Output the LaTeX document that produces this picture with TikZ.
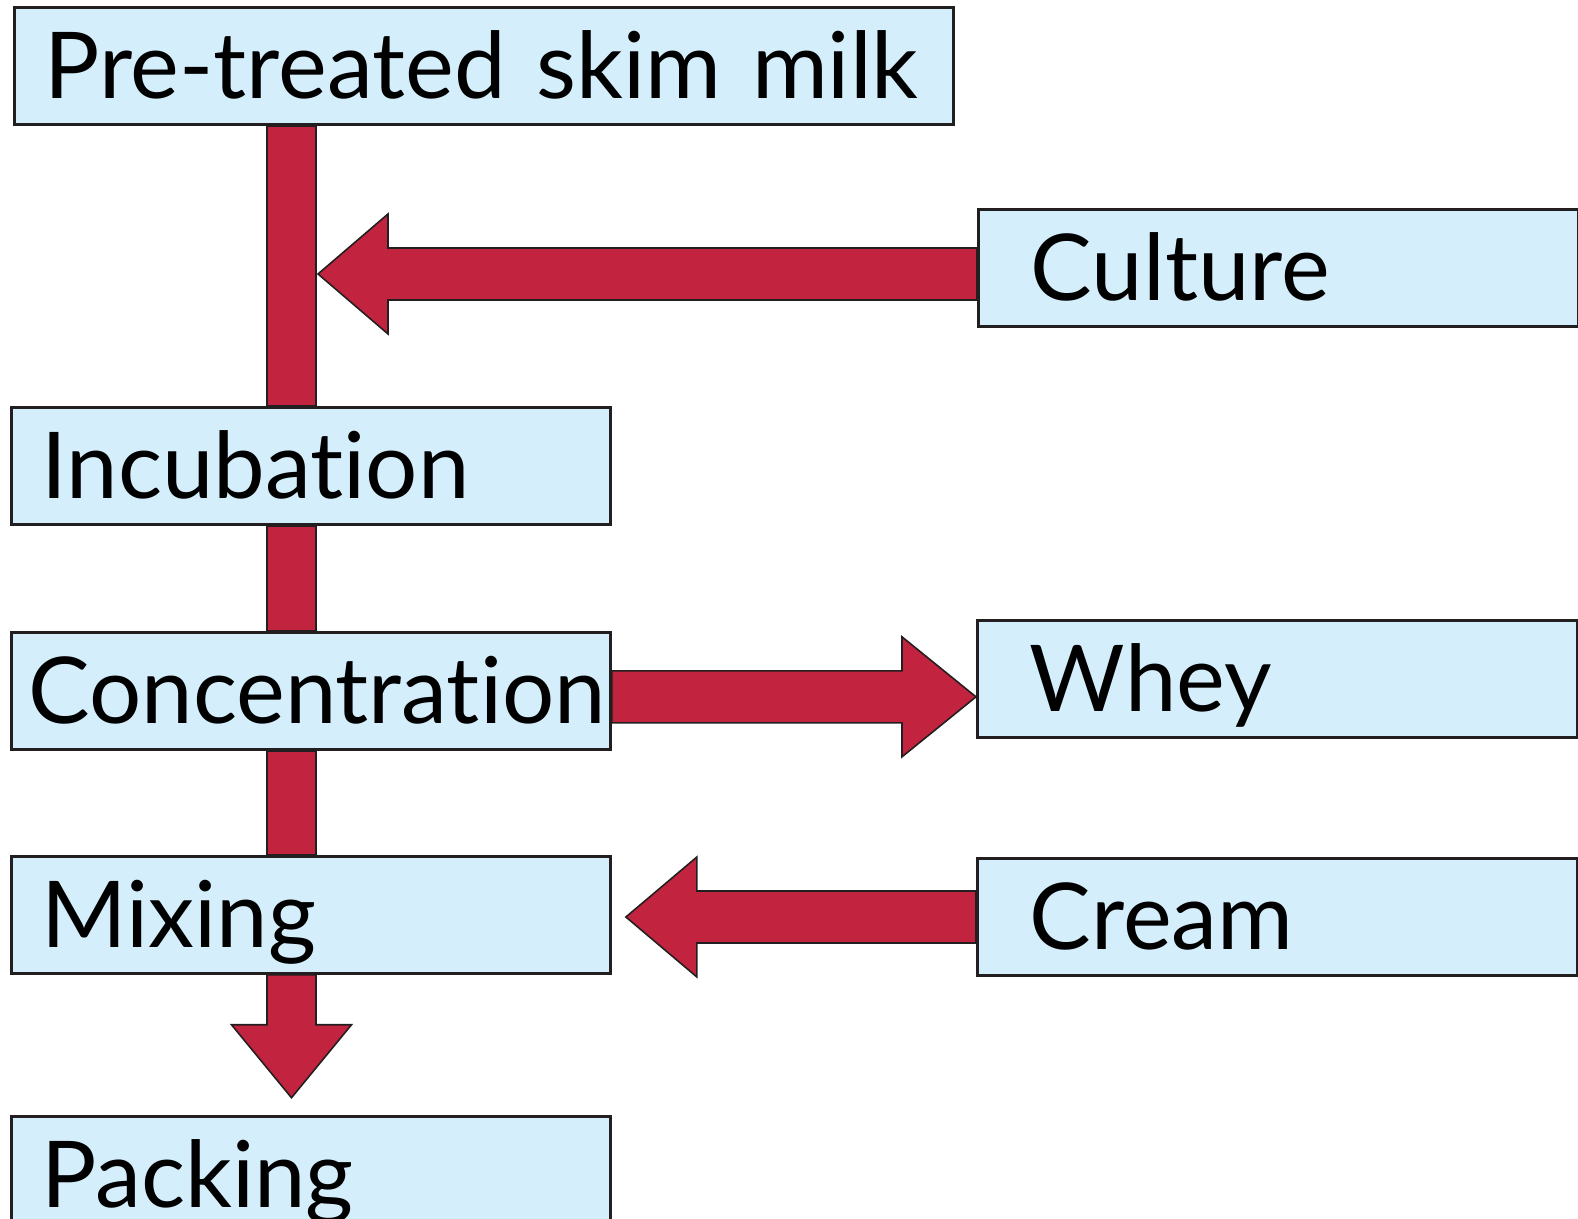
\documentclass[tikz,border=0pt]{standalone}
\usepackage{fontspec}
\setmainfont{Lato}[Ligatures={NoCommon}]
\usetikzlibrary{positioning, calc, backgrounds}
\definecolor{boxfill}{HTML}{D5EEFB}
\definecolor{flow}{HTML}{C2233F}
\definecolor{edge}{HTML}{231F20}

\begin{document}
\begin{tikzpicture}[
  x=0.02cm, y=-0.02cm,
  font=\fontsize{52.5}{62}\selectfont,
  box/.style={rectangle, draw=edge, fill=boxfill, line width=1.7pt, anchor=north west,
              inner xsep=0.6cm, inner ysep=0pt, text width=10.78cm, align=left,
              minimum height=2.34cm, text height=1.3cm, text depth=0pt},
  sidebox/.style={box, inner xsep=1.05cm, text width=9.9cm},
  pipe/.style={draw=edge, fill=flow, line width=0.9pt, line join=miter}]
  \useasboundingbox (0,0) rectangle (1578,1218);
  \clip (0,0) rectangle (1578,1218);

  \node[box, text width=17.58cm] (milk) at (13,6) {Pre-treated~skim~milk};
  \node[box, below=5.6cm of milk.south west, anchor=north west, xshift=-0.06cm] (incub) {Incubation};
  \node[box, inner xsep=0.34cm, text width=11.3cm, below=2.1cm of incub.south west, anchor=north west] (conc) {Concentration};
  \node[box, below=2.08cm of conc.south west, anchor=north west] (mixing) {Mixing};
  \node[box, below=2.8cm of mixing.south west, anchor=north west] (packing) {Packing};
  \node[sidebox] (culture) at (977,208) {Culture};
  \node[sidebox] (whey) at (976,619) {Whey};
  \node[sidebox] (cream) at (976,857) {Cream};

  \begin{scope}[on background layer]
    \coordinate (spine) at (291.5,0);
    \foreach \a/\b in {milk/incub, incub/conc, conc/mixing}
      \draw[pipe] ($(spine |- \a.south)+(-24.5,0)$) rectangle ($(spine |- \b.north)+(24.5,0)$);

    \coordinate (c1) at ($(culture.west)+(0,6)$);
    \coordinate (c0) at ($(c1 -| spine)+(26.5,0)$);
    \draw[pipe] (c0) -- ++(70,-60) -- ++(0,34) -- ($(c1)+(0,-26)$) -- ($(c1)+(0,26)$)
      -- ($(c0)+(70,26)$) -- ++(0,34) -- cycle;

    \coordinate (w0) at ($(conc.east)+(0,6)$);
    \coordinate (w1) at (w0 -| whey.west);
    \draw[pipe] ($(w0)+(0,-26)$) -- ($(w1)+(-74,-26)$) -- ++(0,-34) -- (w1) -- ++(-74,60)
      -- ++(0,-34) -- ($(w0)+(0,26)$) -- cycle;

    \coordinate (k1) at (cream.west);
    \coordinate (k0) at ($(k1 -| mixing.east)+(14,0)$);
    \draw[pipe] (k0) -- ++(71,-60) -- ++(0,34) -- ($(k1)+(0,-26)$) -- ($(k1)+(0,26)$)
      -- ($(k0)+(71,26)$) -- ++(0,34) -- cycle;

    \coordinate (d0) at (spine |- mixing.south);
    \coordinate (d1) at ($(spine |- packing.north)+(0,-17)$);
    \draw[pipe] ($(d0)+(-24.5,0)$) -- ($(d1)+(-24.5,-73)$) -- ++(-35.5,0) -- (d1) -- ++(60,-73)
      -- ++(-35.5,0) -- ($(d0)+(24.5,0)$) -- cycle;
  \end{scope}
\end{tikzpicture}
\end{document}
